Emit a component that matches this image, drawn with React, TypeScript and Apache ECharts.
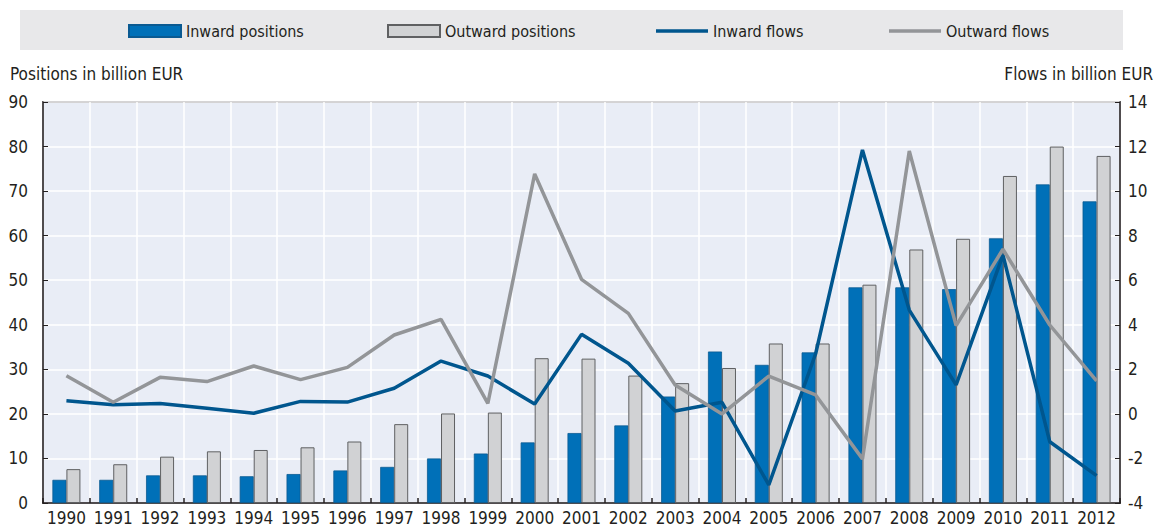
import React, { useEffect, useRef } from "react";
import * as echarts from "echarts";

const years = ["1990","1991","1992","1993","1994","1995","1996","1997","1998","1999","2000","2001","2002","2003","2004","2005","2006","2007","2008","2009","2010","2011","2012"];
const inwardPositions = [5.2,5.2,6.2,6.2,6.0,6.5,7.3,8.1,10.0,11.1,13.6,15.7,17.4,23.9,34.0,31.0,33.8,48.4,48.4,48.0,59.4,71.5,67.7];
const outwardPositions = [7.6,8.7,10.4,11.6,11.9,12.5,13.8,17.7,20.1,20.3,32.5,32.4,28.6,26.9,30.3,35.8,35.8,49.0,56.9,59.3,73.4,80.0,77.9];
const inwardFlows = [0.59,0.41,0.47,0.25,0.03,0.56,0.53,1.15,2.37,1.70,0.44,3.57,2.27,0.13,0.52,-3.19,2.7,11.85,4.66,1.30,7.13,-1.25,-2.77];
const outwardFlows = [1.71,0.52,1.64,1.45,2.15,1.54,2.09,3.54,4.24,0.47,10.77,6.04,4.51,1.30,0.0,1.70,0.85,-2.02,11.8,3.96,7.39,3.99,1.48];

const FONT = '"DejaVu Sans Condensed", "Liberation Sans Narrow", "Arial Narrow", sans-serif';
const TXT = "#231F20";

export default function App() {
  const ref = useRef<HTMLDivElement>(null);
  useEffect(() => {
    const chart = echarts.init(ref.current!, null, { renderer: "svg" });
    const legendText = { fontFamily: FONT, fontSize: 16, color: TXT };
    const mkLegend = (name: string, left: number, h: number, top: number) => ({
      data: [{ name, icon: "rect" }],
      left,
      top,
      padding: 0,
      itemWidth: 52,
      itemHeight: h,
      itemGap: 5,
      textStyle: legendText,
      selectedMode: false,
    });
    chart.setOption({
      animation: false,
      textStyle: { fontFamily: FONT },
      graphic: [
        { type: "rect", z: -10, shape: { x: 20, y: 10, width: 1103, height: 40 }, style: { fill: "#E8E8EA" } },
        { type: "text", left: 10, top: 65, style: { text: "Positions in billion EUR", font: `17px ${FONT}`, fill: TXT } },
        { type: "text", right: 3, top: 65, style: { text: "Flows in billion EUR", font: `17px ${FONT}`, fill: TXT } },
      ],
      legend: [
        mkLegend("Inward positions", 128, 12, 23),
        mkLegend("Outward positions", 387, 12, 23),
        mkLegend("Inward flows", 656, 3.5, 23),
        mkLegend("Outward flows", 889, 3.5, 23),
      ],
      grid: {
        left: 43, right: 36, top: 102, bottom: 25,
        show: true, backgroundColor: "#E9EDF6", borderColor: "#231F20", borderWidth: 1.5,
      },
      xAxis: {
        type: "category",
        data: years,
        axisLine: { lineStyle: { color: "#231F20", width: 1.5 } },
        axisTick: { show: true, inside: true, length: 5, alignWithLabel: false, lineStyle: { color: "#231F20", width: 1.5 } },
        axisLabel: { fontFamily: FONT, fontSize: 17, color: TXT, margin: 6, interval: 0 },
        splitLine: { show: true, lineStyle: { color: "#FFFFFF", width: 1.5 } },
      },
      yAxis: [
        {
          type: "value", min: 0, max: 90, interval: 10,
          axisLine: { show: true, lineStyle: { color: "#231F20", width: 1.5 } },
          axisTick: { show: true, inside: true, length: 5, lineStyle: { color: "#231F20" } },
          axisLabel: { fontFamily: FONT, fontSize: 17, color: TXT, margin: 15 },
          splitLine: { show: true, lineStyle: { color: "#FFFFFF", width: 1.5 } },
        },
        {
          type: "value", min: -4, max: 14, interval: 2,
          axisLine: { show: true, lineStyle: { color: "#231F20", width: 1.5 } },
          axisTick: { show: true, inside: true, length: 5, lineStyle: { color: "#231F20" } },
          axisLabel: { fontFamily: FONT, fontSize: 17, color: TXT, margin: 8 },
          splitLine: { show: false },
        },
      ],
      series: [
        {
          name: "Inward positions", type: "bar", data: inwardPositions, yAxisIndex: 0,
          barWidth: 14, barGap: "0%",
          itemStyle: { color: "#0070B8", borderColor: "#0A5A92", borderWidth: 0.8 },
        },
        {
          name: "Outward positions", type: "bar", data: outwardPositions, yAxisIndex: 0,
          barWidth: 14, barGap: "0%",
          itemStyle: { color: "#D1D2D4", borderColor: "#5F6062", borderWidth: 1 },
        },
        {
          name: "Inward flows", type: "line", data: inwardFlows, yAxisIndex: 1,
          symbol: "none", lineStyle: { color: "#00568E", width: 3.5 }, itemStyle: { color: "#00568E" },
        },
        {
          name: "Outward flows", type: "line", data: outwardFlows, yAxisIndex: 1,
          symbol: "none", lineStyle: { color: "#939598", width: 3.5 }, itemStyle: { color: "#939598" },
        },
      ],
    });
    return () => chart.dispose();
  }, []);
  return <div ref={ref} style={{ width: 1156, height: 528, position: "absolute", left: 0, top: 0 }} />;
}
